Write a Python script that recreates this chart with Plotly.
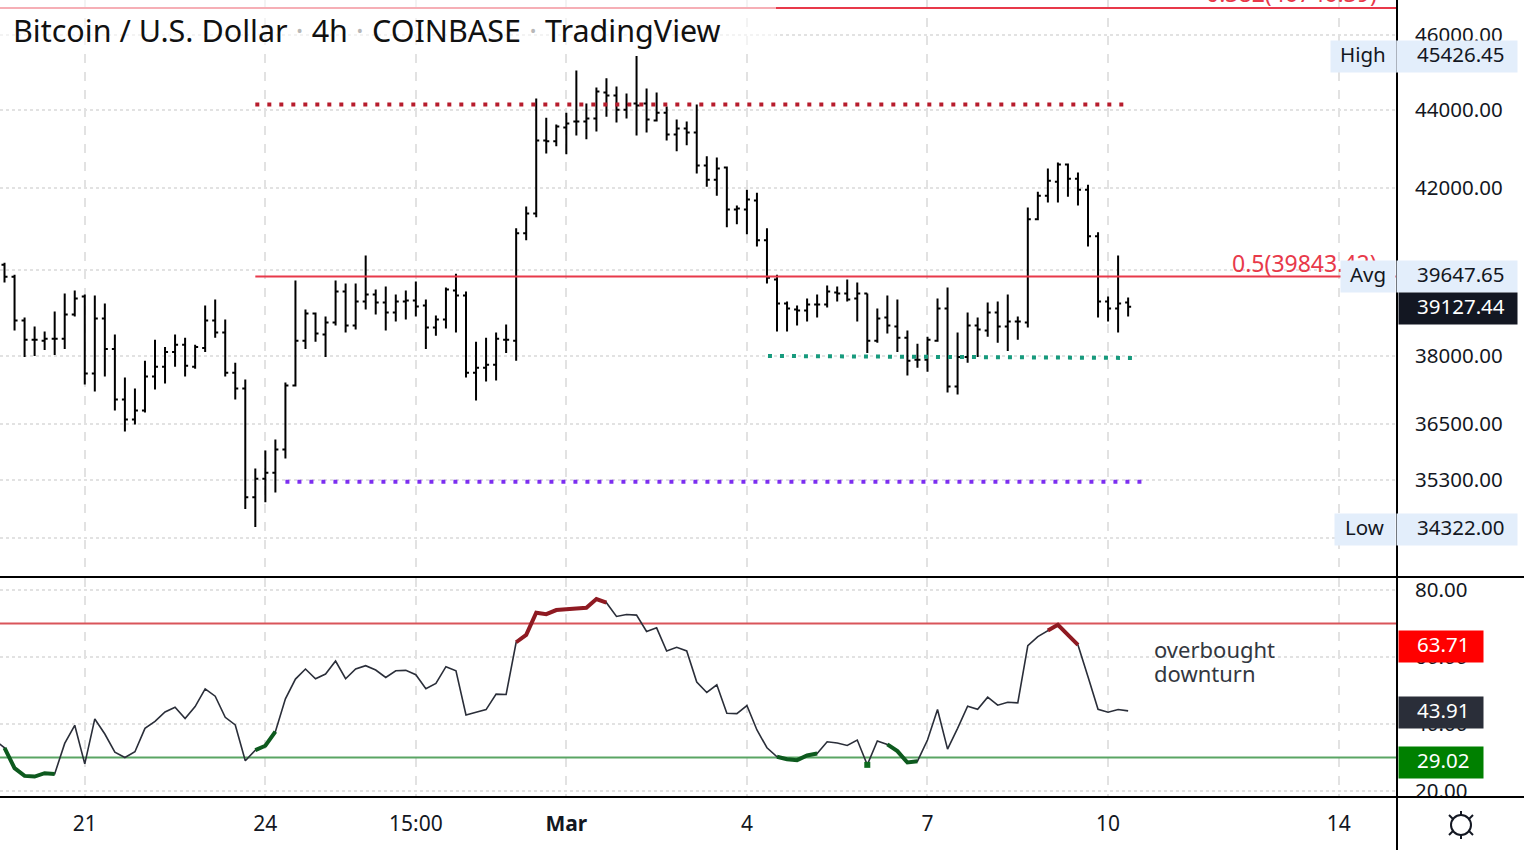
import plotly.graph_objects as go

W, H = 1524, 850
FONT = "Noto Sans"
INK = "#131722"

# bar index, -1 is the bar just off the left edge
bars = list(range(-1, 113))

opens = [40150, 40122, 39837, 38812, 38369, 38346, 38392, 38392, 38952, 39371, 37603, 38858, 38159, 37030, 36588, 36787,
         37537, 37757, 38089, 38253, 37757, 38183, 38812, 38532, 37625, 37272, 34934, 35321, 35450, 35944, 37338, 38346,
         38975, 38486, 38765, 39488, 38695, 39254, 39418, 39231, 38998, 39254, 39278, 39161, 38649, 38835, 39511, 39394,
         37625, 37735, 37801, 38369, 38346, 40878, 41366, 43203, 43178, 43536, 43690, 43690, 43766, 44454, 44374, 44000,
         44160, 44160, 43715, 43920, 43357, 43510, 43408, 42563, 42205, 42512, 41463, 41463, 41683, 40707, 39767, 39208,
         39068, 39045, 39185, 39185, 39464, 39441, 39324, 39441, 38346, 38882, 38672, 38416, 37912, 37912, 38346, 39091,
         37316, 37978, 38695, 38579, 38998, 38672, 38788, 38765, 41219, 41805, 42154, 42589, 42230, 41951, 40804, 39254,
         39091, 39231]
highs = [40200, 40171, 39884, 38882, 38672, 38555, 39021, 39441, 39511, 39418, 39394, 39208, 38486, 37515, 37272, 37890,
         38369, 38206, 38486, 38416, 38253, 39161, 39301, 38835, 37846, 37471, 35536, 35922, 36158, 37404, 39744, 39068,
         38998, 38905, 39744, 39674, 39674, 40342, 39534, 39604, 39418, 39511, 39720, 39301, 38928, 39581, 39907, 39488,
         38322, 38416, 38532, 38719, 41000, 41536, 44294, 43792, 43613, 43920, 45041, 44160, 44587, 44828, 44614, 44427,
         45426, 44561, 44454, 44080, 43741, 43690, 44134, 42794, 42768, 42538, 41561, 41951, 41878, 41000, 39884, 39254,
         39161, 39324, 39418, 39627, 39604, 39767, 39697, 39441, 39091, 39394, 39301, 38579, 38276, 38439, 39324, 39581,
         38532, 38998, 38882, 39231, 39254, 39418, 38905, 41512, 41902, 42486, 42640, 42614, 42384, 42077, 40902, 39371,
         40342, 39348]
lows = [40000, 39697, 38579, 37978, 38000, 38136, 38020, 38159, 38905, 37360, 37206, 37537, 36787, 36330, 36479, 36743,
        37250, 37382, 37757, 37537, 37713, 38089, 38416, 37537, 37030, 34691, 34322, 34833, 35036, 35750, 37316, 38159,
        38322, 37978, 38695, 38532, 38602, 39068, 38952, 38579, 38788, 38835, 38905, 38159, 38462, 38625, 38532, 37515,
        37007, 37426, 37449, 38066, 37890, 40707, 41268, 42870, 43050, 42845, 43331, 43229, 43434, 43818, 43664, 43766,
        43331, 43408, 43690, 43203, 42922, 43075, 42358, 42026, 41805, 41024, 41097, 40853, 40560, 39674, 38555, 38555,
        38695, 38788, 38882, 39115, 39254, 39254, 38788, 38066, 38299, 38509, 38089, 37559, 37735, 37647, 38322, 37184,
        37140, 37846, 37978, 38439, 38299, 38113, 38369, 38649, 41195, 41634, 41634, 41780, 41561, 40560, 38882, 38788,
        38532, 38905]
closes = [40120, 39837, 38812, 38369, 38369, 38392, 38392, 38952, 39324, 37603, 38858, 38159, 37030, 36588, 36787, 37537,
          37757, 38089, 38253, 37779, 38206, 38812, 38532, 37625, 37272, 34934, 35321, 35450, 35944, 37338, 38346, 38975,
          38509, 38765, 39488, 38695, 39254, 39418, 39231, 38998, 39254, 39278, 39138, 38649, 38835, 39534, 39394, 37625,
          37735, 37801, 38392, 38369, 40878, 41366, 43203, 43178, 43562, 43638, 43690, 43766, 44481, 44374, 44000, 44134,
          44107, 43741, 43920, 43357, 43510, 43408, 42563, 42205, 42486, 41463, 41488, 41707, 40707, 39814, 39208, 39091,
          39045, 39185, 39185, 39488, 39441, 39301, 39441, 38346, 38858, 38695, 38416, 37890, 37912, 38369, 39091, 37316,
          37978, 38695, 38602, 38998, 38672, 38788, 38788, 41219, 41805, 42179, 42589, 42230, 41951, 40804, 39254, 39091,
          39208, 39127.44]

rsi = [35.2, 32.9, 26.8, 24.5, 24.3, 25.3, 25.1, 34.2, 39.6, 28.1, 41.5, 37.0, 31.6, 30.0, 31.7, 38.7, 40.8, 43.6, 45.0,
       41.6, 45.2, 50.5, 48.3, 42.0, 39.7, 29.0, 32.2, 33.5, 37.7, 47.5, 53.4, 56.4, 53.5, 54.9, 58.8, 53.5, 56.4, 57.4,
       56.1, 53.9, 55.9, 56.0, 54.7, 50.5, 52.1, 57.1, 55.9, 42.7, 43.5, 44.3, 48.9, 48.8, 64.4, 66.6, 73.2, 72.8, 74.0,
       74.4, 74.5, 74.7, 77.3, 76.2, 72.1, 72.7, 72.5, 67.6, 68.7, 61.8, 62.9, 61.8, 52.5, 49.4, 51.7, 43.2, 43.1, 45.5,
       38.2, 32.9, 30.2, 29.5, 29.2, 30.6, 31.2, 34.7, 34.3, 33.6, 35.2, 27.8, 34.9, 33.9, 31.9, 28.5, 28.9, 35.2, 44.3,
       32.5, 38.7, 45.3, 44.4, 48.0, 45.6, 46.5, 46.3, 63.4, 66.1, 67.9, 69.6, 66.6, 63.6, 54.1, 44.4, 43.5, 44.3, 43.91]

# stretches of the oscillator that are drawn heavier (first bar, last bar)
oversold_runs = [(0, 5), (25, 27), (77, 81), (88, 91)]
oversold_points = [86]
overbought_runs = [(51, 60), (104, 107)]

x_tick_bars = [8, 26, 41, 56, 74, 92, 110, 133]
x_tick_text = ["21", "24", "15:00", "<b>Mar</b>", "4", "7", "10", "14"]
price_ticks = [46000, 44000, 42000, 40000, 38000, 36500, 35300, 34100]
rsi_ticks = [80, 60, 40, 20]

fib_levels = [46746.39, 39843.42]
resistance = 44134
support_low = 35260
support_mid = [38000, 37955]
rsi_upper, rsi_lower = 70, 30

X_LEFT, X_RIGHT = -0.45, 138.8


def px(x):
    return x / W


def py(y):
    return 1 - y / H


fig = go.Figure()

fig.add_trace(go.Ohlc(x=bars, open=opens, high=highs, low=lows, close=closes, tickwidth=0.3,
                      increasing_line=dict(color="#000000", width=2),
                      decreasing_line=dict(color="#000000", width=2),
                      xaxis="x", yaxis="y", showlegend=False))

# fib levels, the upper one reaches the left edge
fig.add_trace(go.Scatter(x=[X_LEFT, X_RIGHT], y=[fib_levels[0]] * 2, mode="lines", line=dict(color="#e8394a", width=2),
                         xaxis="x", yaxis="y", showlegend=False))
fig.add_trace(go.Scatter(x=[25, X_RIGHT], y=[fib_levels[1]] * 2, mode="lines", line=dict(color="#e8394a", width=2),
                         xaxis="x", yaxis="y", showlegend=False))

fig.add_trace(go.Scatter(x=[25, 111.7], y=[resistance] * 2, mode="lines",
                         line=dict(color="#b71c2c", width=4, dash="4px,8px"), xaxis="x", yaxis="y", showlegend=False))
fig.add_trace(go.Scatter(x=[28, 113.4], y=[support_low] * 2, mode="lines",
                         line=dict(color="#7c2ff0", width=4, dash="4px,8px"), xaxis="x", yaxis="y", showlegend=False))
fig.add_trace(go.Scatter(x=[76.1, 112.4], y=support_mid, mode="lines",
                         line=dict(color="#179a7d", width=4, dash="4px,8px"), xaxis="x", yaxis="y", showlegend=False))

# oscillator pane
fig.add_trace(go.Scatter(x=[X_LEFT, X_RIGHT], y=[rsi_upper] * 2, mode="lines", line=dict(color="#d9555a", width=2),
                         xaxis="x2", yaxis="y2", showlegend=False))
fig.add_trace(go.Scatter(x=[X_LEFT, X_RIGHT], y=[rsi_lower] * 2, mode="lines", line=dict(color="#5aa564", width=2),
                         xaxis="x2", yaxis="y2", showlegend=False))
fig.add_trace(go.Scatter(x=bars, y=rsi, mode="lines", line=dict(color="#2a2e39", width=1.6),
                         xaxis="x2", yaxis="y2", showlegend=False))

for runs, color in ((oversold_runs, "#0d5a1e"), (overbought_runs, "#8f1a22")):
    for first, last in runs:
        fig.add_trace(go.Scatter(x=bars[first + 1:last + 2], y=rsi[first + 1:last + 2], mode="lines",
                                 line=dict(color=color, width=4), xaxis="x2", yaxis="y2", showlegend=False))
for b in oversold_points:
    fig.add_trace(go.Scatter(x=[b], y=[rsi[b + 1]], mode="markers", marker=dict(color="#0d6a1e", size=6, symbol="square"),
                             xaxis="x2", yaxis="y2", showlegend=False))

plot_w = 1397 / W
tick_font = dict(family=FONT, size=20.5, color=INK)
x_common = dict(range=[X_LEFT, X_RIGHT], domain=[0, plot_w], tickmode="array", tickvals=x_tick_bars, ticktext=x_tick_text,
                showgrid=True, gridcolor="#e2e2e2", griddash="dash", gridwidth=2, zeroline=False, showline=False,
                automargin=False, rangeslider=dict(visible=False), tickfont=dict(family=FONT, size=21, color=INK))
y_common = dict(side="right", showgrid=True, gridcolor="#e2e2e2", griddash="dot", gridwidth=1.5, zeroline=False,
                automargin=False, showline=False, ticks="outside", ticklen=13, tickcolor="rgba(0,0,0,0)", tickfont=tick_font)

fig.update_layout(
    width=W, height=H, margin=dict(l=0, r=0, t=0, b=0), paper_bgcolor="#ffffff", plot_bgcolor="#ffffff",
    showlegend=False, hovermode=False,
    xaxis=dict(x_common, anchor="y", showticklabels=False),
    xaxis2=dict(x_common, anchor="y2", ticks="outside", ticklen=8, tickcolor="rgba(0,0,0,0)"),
    yaxis=dict(y_common, type="log", domain=[py(577), 1], range=[4.52265, 4.67180], anchor="x", tickmode="array",
               tickvals=price_ticks, ticktext=["%.2f" % t for t in price_ticks]),
    yaxis2=dict(y_common, domain=[py(797), py(578)], range=[18.2, 83.58], anchor="x2", tickmode="array",
                tickvals=rsi_ticks, ticktext=["%.2f" % t for t in rsi_ticks]),
)

shapes = [
    # translucent backing of the title
    dict(type="rect", xref="paper", yref="paper", x0=0, x1=px(776), y0=py(46), y1=1, layer="above",
         line_width=0, fillcolor="rgba(255,255,255,0.6)"),
    # bottom strip hides the part of 20.00 under the pane border
    dict(type="rect", xref="paper", yref="paper", x0=px(1398), x1=1, y0=0, y1=py(797), layer="above",
         line_width=0, fillcolor="#ffffff"),
]
for y in (577, 797):
    shapes.append(dict(type="line", xref="paper", yref="paper", x0=0, x1=1, y0=py(y), y1=py(y), layer="above",
                       line=dict(color="#000000", width=2)))
shapes.append(dict(type="line", xref="paper", yref="paper", x0=px(1397), x1=px(1397), y0=0, y1=1, layer="above",
                   line=dict(color="#000000", width=2)))

# settings gear
shapes.append(dict(type="circle", xref="paper", yref="paper", x0=px(1451), x1=px(1471), y0=py(835), y1=py(815),
                   layer="above", line=dict(color=INK, width=2), fillcolor="#ffffff"))
for x0, y0, x1, y1 in ((1461, 815, 1461, 811), (1461, 835, 1461, 839), (1453, 819, 1449, 815), (1469, 819, 1473, 815),
                       (1453, 831, 1449, 835), (1469, 831, 1473, 835)):
    shapes.append(dict(type="line", xref="paper", yref="paper", x0=px(x0), x1=px(x1), y0=py(y0), y1=py(y1), layer="above",
                       line=dict(color=INK, width=2)))
fig.update_layout(shapes=shapes)


def text_at(x, y, text, size=20.5, color=INK, anchor="left"):
    fig.add_annotation(xref="paper", yref="paper", x=px(x), y=py(y), text=text, showarrow=False, xanchor=anchor,
                       yanchor="middle", borderpad=0, font=dict(family=FONT, size=size, color=color))


def label(x0, x1, y0, y1, text, bg, color, text_x):
    fig.add_annotation(xref="paper", yref="paper", x=px(x0), y=py(y0), text=" ", showarrow=False, xanchor="left",
                       yanchor="top", width=x1 - x0, height=y1 - y0, borderpad=0, bgcolor=bg)
    text_at(text_x, (y0 + y1) / 2 - 1.5, text, color=color)


dot = '<span style="color:#b8b8b8"> · </span>'
text_at(12, 30, "Bitcoin / U.S. Dollar" + dot + "4h" + dot + "COINBASE" + dot + "TradingView", size=30.5, color="#111111")
text_at(1378, -7, "0.382(46746.39)", size=23, color="#e8394a", anchor="right")
text_at(1378, 263, "0.5(39843.42)", size=23, color="#e8394a", anchor="right")
text_at(1153, 649, "overbought", size=22, color="#333740")
text_at(1153, 673, "downturn", size=22, color="#333740")

BLUE = "#e3eefb"
label(1330, 1395, 40, 71, "High", BLUE, INK, 1339)
label(1396, 1516, 40, 71, "45426.45", BLUE, INK, 1416)
label(1340, 1394, 260, 291, "Avg", BLUE, INK, 1349)
label(1396, 1516, 260, 291, "39647.65", BLUE, INK, 1416)
label(1398, 1516, 292, 323, "39127.44", INK, "#ffffff", 1416)
label(1334, 1394, 513, 544, "Low", BLUE, INK, 1344)
label(1396, 1516, 513, 544, "34322.00", BLUE, INK, 1416)
label(1398, 1482, 630, 661, "63.71", "#ff0000", "#ffffff", 1416)
label(1398, 1482, 696, 727, "43.91", "#2a2e39", "#ffffff", 1416)
label(1398, 1482, 746, 777, "29.02", "#008000", "#ffffff", 1416)

fig.write_html("out.html", config=dict(displayModeBar=False), post_script="document.body.style.margin='0';")
